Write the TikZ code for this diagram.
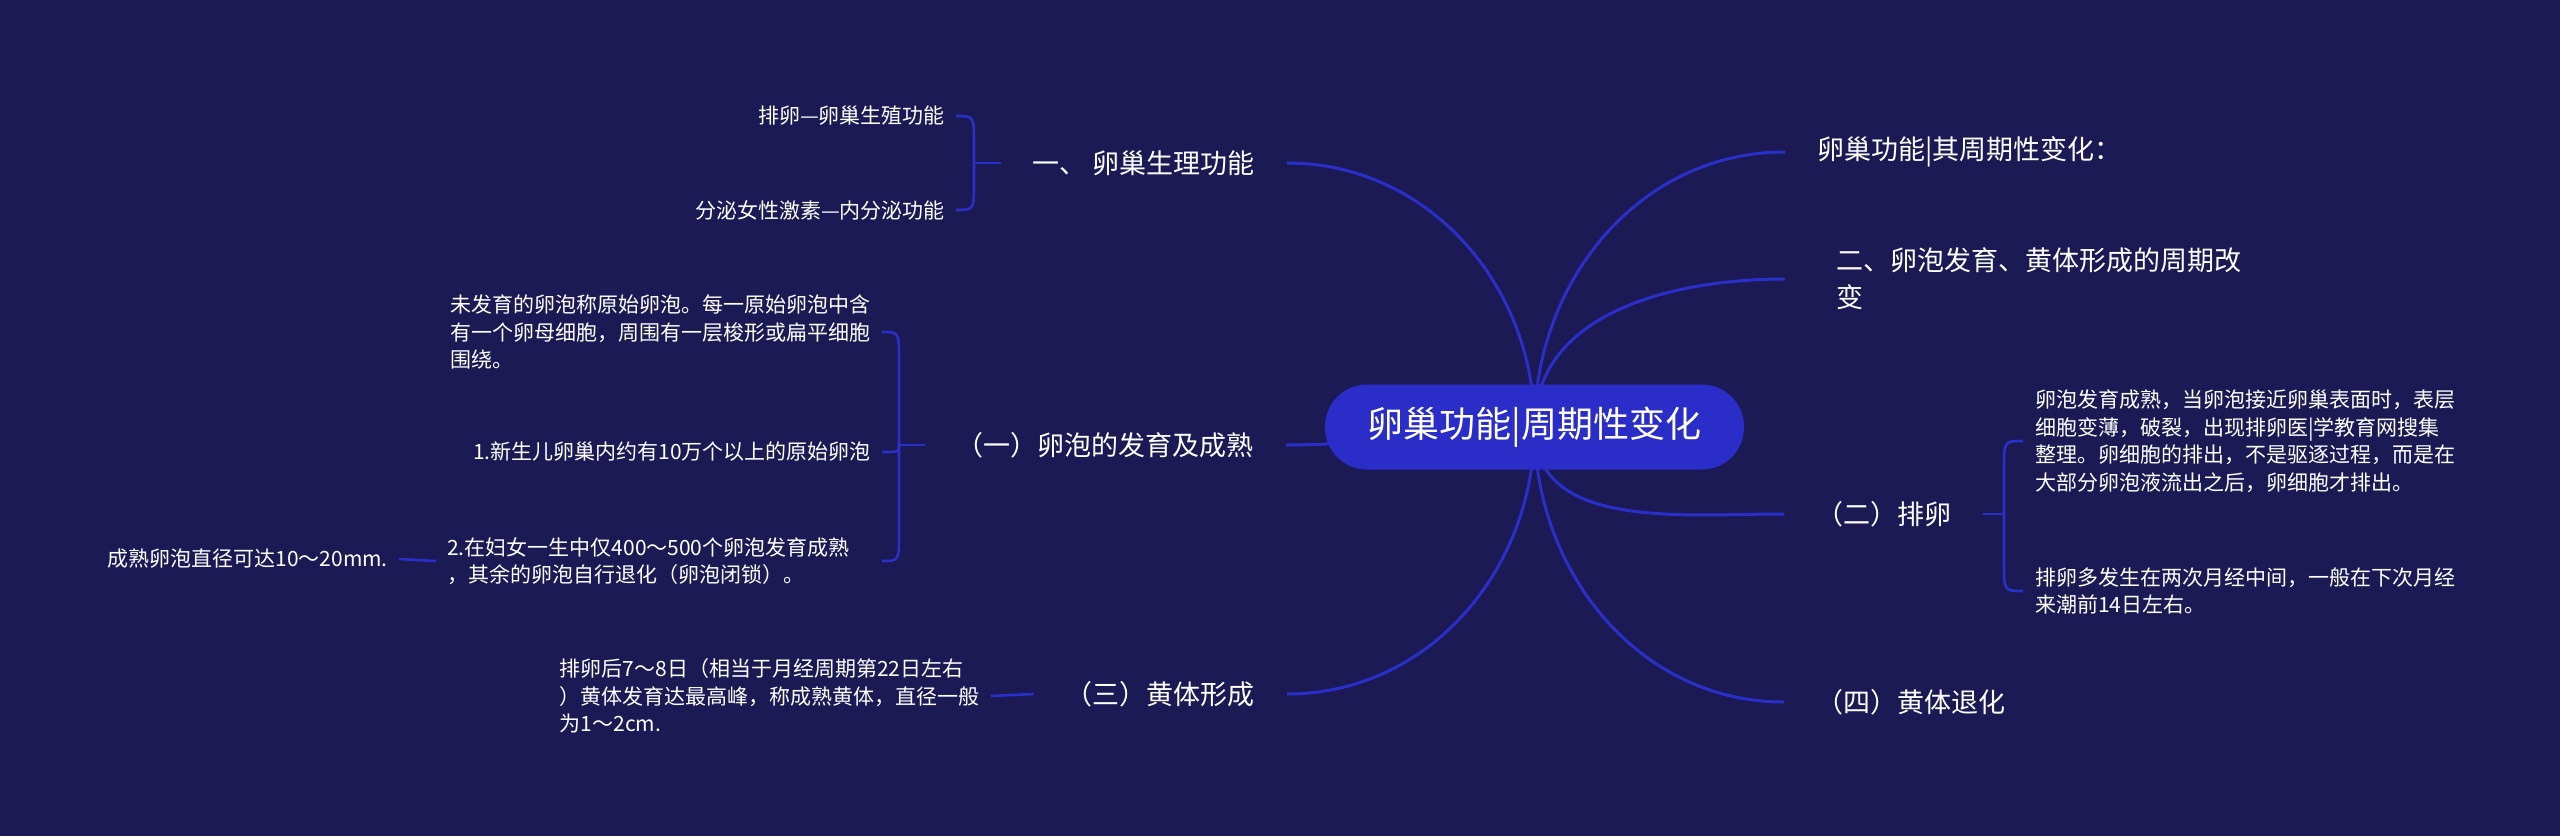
\documentclass[tikz,border=0pt]{standalone}
\usepackage{fontspec}
\usetikzlibrary{calc}
\newfontfamily\cjk{Noto Sans CJK SC}
\definecolor{bgc}{HTML}{1B1A55}
\definecolor{lnc}{HTML}{2B2FC9}
\definecolor{rootc}{HTML}{2A2DC7}
\pgfdeclarelayer{bgl}
\pgfdeclarelayer{edges}
\pgfsetlayers{bgl,edges,main}
\tikzset{
  every node/.style={text=white, inner ysep=0pt},
  rootnode/.style={fill=rootc, rounded corners=42pt, minimum width=419pt, minimum height=85pt, inner xsep=0pt, font=\cjk\fontsize{36}{42}\selectfont},
  lvone/.style={inner xsep=32pt, font=\cjk\fontsize{27}{37}\selectfont},
  lvtwo/.style={inner xsep=11pt, font=\cjk\fontsize{21}{27.5}\selectfont},
  mainline/.style={draw=lnc, line width=3pt},
  subline/.style={draw=lnc, line width=2.6pt},
}
\begin{document}
\begin{tikzpicture}[x=1pt, y=-1pt]
\useasboundingbox (0,0) rectangle (2560,836);
\begin{pgfonlayer}{bgl}
\fill[bgc] (0,0) rectangle (2560,836);
\end{pgfonlayer}

% root
\node[rootnode] (root) at (1534.5,427) {卵巢功能|周期性变化};

% right level one
\node[lvone, anchor=west] (r1) at (1785,152) {卵巢功能|其周期性变化：};
\node[lvone, anchor=west, align=left, inner xsep=51pt] (r2) at (1785,279) {二、卵泡发育、黄体形成的周期改\\变};
\node[lvone, anchor=west] (r3) at (1784,514) {（二）排卵};
\node[lvone, anchor=west] (r4) at (1784,702) {（四）黄体退化};

% left level one
\node[lvone, anchor=east] (l1) at (1287,163) {一、 卵巢生理功能};
\node[lvone, anchor=east] (l2) at (1286,445) {（一）卵泡的发育及成熟};
\node[lvone, anchor=east] (l3) at (1287,694) {（三）黄体形成};

% children of l1
\node[lvtwo, anchor=east] (l1a) at (956,116) {排卵—卵巢生殖功能};
\node[lvtwo, anchor=east] (l1b) at (956,210) {分泌女性激素—内分泌功能};
\coordinate (j1) at (974,163);

% children of l2
\node[lvtwo, anchor=east, align=left] (l2a) at (882,332) {未发育的卵泡称原始卵泡。每一原始卵泡中含\\有一个卵母细胞，周围有一层梭形或扁平细胞\\围绕。};
\node[lvtwo, anchor=east] (l2b) at (882,452) {1.新生儿卵巢内约有10万个以上的原始卵泡};
\node[lvtwo, anchor=west, align=left] (l2c) at (436,561) {2.在妇女一生中仅400～500个卵泡发育成熟\\，其余的卵泡自行退化（卵泡闭锁）。};
\node[lvtwo, anchor=east] (l2d) at (399,559) {成熟卵泡直径可达10～20mm.};
\coordinate (j2) at (899,445);
\coordinate (bx2) at (882,445);

% child of l3
\node[lvtwo, anchor=east, align=left] (l3a) at (991,696) {排卵后7～8日（相当于月经周期第22日左右\\）黄体发育达最高峰，称成熟黄体，直径一般\\为1～2cm.};

% children of r3
\node[lvtwo, anchor=west, align=left, inner xsep=12pt] (r3a) at (2023,441) {卵泡发育成熟，当卵泡接近卵巢表面时，表层\\细胞变薄，破裂，出现排卵医|学教育网搜集\\整理。卵细胞的排出，不是驱逐过程，而是在\\大部分卵泡液流出之后，卵细胞才排出。};
\node[lvtwo, anchor=west, align=left, inner xsep=12pt] (r3b) at (2023,591) {排卵多发生在两次月经中间，一般在下次月经\\来潮前14日左右。};
\coordinate (j3) at (2004,514);

\begin{pgfonlayer}{edges}
% main curves
\draw[mainline] (root.center) to[out=90,in=180] (r1.west);
\draw[mainline] (root.center) to[out=90,in=180] (r2.west);
\draw[mainline] (root.center) to[out=-90,in=180] (r3.west);
\draw[mainline] (root.center) to[out=-90,in=180] (r4.west);
\draw[mainline] (root.center) to[out=90,in=0] (l1.east);
\draw[mainline] (root.center) to[out=180,in=0] (l2.east);
\draw[mainline] (root.center) to[out=-90,in=0] (l3.east);

% l1 brace
\draw[subline] (l1.west) -- (j1);
\draw[subline] (j1) -- ($(j1 |- l1a.east)+(0,28)$) .. controls (j1 |- l1a.east) .. (l1a.east);
\draw[subline] (j1) -- ($(j1 |- l1b.east)+(0,-28)$) .. controls (j1 |- l1b.east) .. (l1b.east);

% l2 brace
\draw[subline] (l2.west) -- (j2);
\draw[subline] (j2) -- ($(j2 |- l2a.east)+(0,28)$) .. controls (j2 |- l2a.east) .. (bx2 |- l2a.east);
\draw[subline] (j2) .. controls (j2 |- l2b.east) .. (l2b.east);
\draw[subline] (j2) -- ($(j2 |- l2c.west)+(0,-28)$) .. controls (j2 |- l2c.west) .. (bx2 |- l2c.west);
\draw[subline] (l2c.west) -- (l2d.east);

% l3
\draw[subline] (l3.west) -- (l3a.east);

% r3 brace
\draw[subline] (r3.east) -- (j3);
\draw[subline] (j3) -- ($(j3 |- r3a.west)+(0,28)$) .. controls (j3 |- r3a.west) .. (r3a.west);
\draw[subline] (j3) -- ($(j3 |- r3b.west)+(0,-28)$) .. controls (j3 |- r3b.west) .. (r3b.west);
\end{pgfonlayer}
\end{tikzpicture}
\end{document}
